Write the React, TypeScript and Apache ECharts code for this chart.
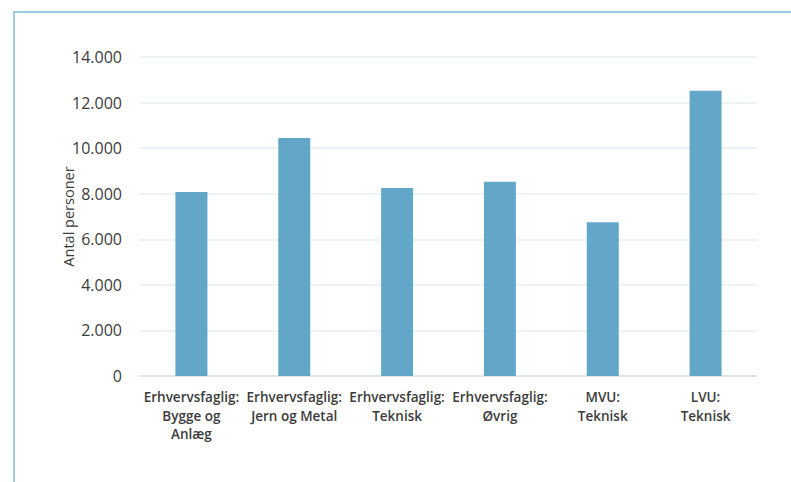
import React, { useEffect, useRef } from "react";
import * as echarts from "echarts";

const categories = [
  "Erhvervsfaglig:\nBygge og\nAnlæg",
  "Erhvervsfaglig:\nJern og Metal",
  "Erhvervsfaglig:\nTeknisk",
  "Erhvervsfaglig:\nØvrig",
  "MVU:\nTeknisk",
  "LVU:\nTeknisk",
];
const values = [8070, 10450, 8250, 8520, 6750, 12520];
const yAxisName = "Antal personer";
const yMax = 14000;
const yInterval = 2000;

export default function App() {
  const ref = useRef<HTMLDivElement>(null);
  useEffect(() => {
    if (!ref.current) return;
    const chart = echarts.init(ref.current, null, { renderer: "svg" });
    chart.setOption({
      animation: false,
      backgroundColor: "#ffffff",
      textStyle: { fontFamily: "Open Sans" },
      graphic: [
        {
          type: "line",
          shape: { x1: 14, y1: 12, x2: 14, y2: 482 },
          style: { stroke: "#9fcbe3", lineWidth: 2 },
        },
        {
          type: "line",
          shape: { x1: 13, y1: 12, x2: 791, y2: 12 },
          style: { stroke: "#9fcbe3", lineWidth: 2 },
        },
      ],
      grid: { left: 140, right: 34, top: 57, bottom: 106 },
      xAxis: {
        type: "category",
        data: categories,
        axisLine: { lineStyle: { color: "#d6e2ec", width: 1.5 } },
        axisTick: { show: false },
        axisLabel: {
          interval: 0,
          margin: 12,
          fontSize: 13.5,
          lineHeight: 18.5,
          fontWeight: 600,
          color: "#3c3c3c",
          fontFamily: "Open Sans",
        },
      },
      yAxis: {
        type: "value",
        min: 0,
        max: yMax,
        interval: yInterval,
        name: yAxisName,
        nameLocation: "middle",
        nameGap: 64,
        nameRotate: 90,
        nameMoveOverlap: false,
        nameTextStyle: { fontSize: 14.5, color: "#3c3c3c", fontFamily: "Open Sans" },
        axisLine: { show: false },
        axisTick: { show: false },
        splitLine: { lineStyle: { color: "#e6eef5", width: 1.5 } },
        axisLabel: {
          margin: 18,
          fontSize: 16,
          color: "#3c3c3c",
          fontFamily: "Open Sans",
          formatter: (v: number) =>
            v === 0 ? "0" : String(v).replace(/\B(?=(\d{3})+(?!\d))/g, "."),
        },
      },
      series: [
        {
          type: "bar",
          data: values,
          barWidth: 32,
          itemStyle: { color: "#63a7c8" },
        },
      ],
    });
    return () => chart.dispose();
  }, []);
  return (
    <div
      ref={ref}
      style={{ position: "fixed", left: 0, top: 0, width: 791, height: 482 }}
    />
  );
}
